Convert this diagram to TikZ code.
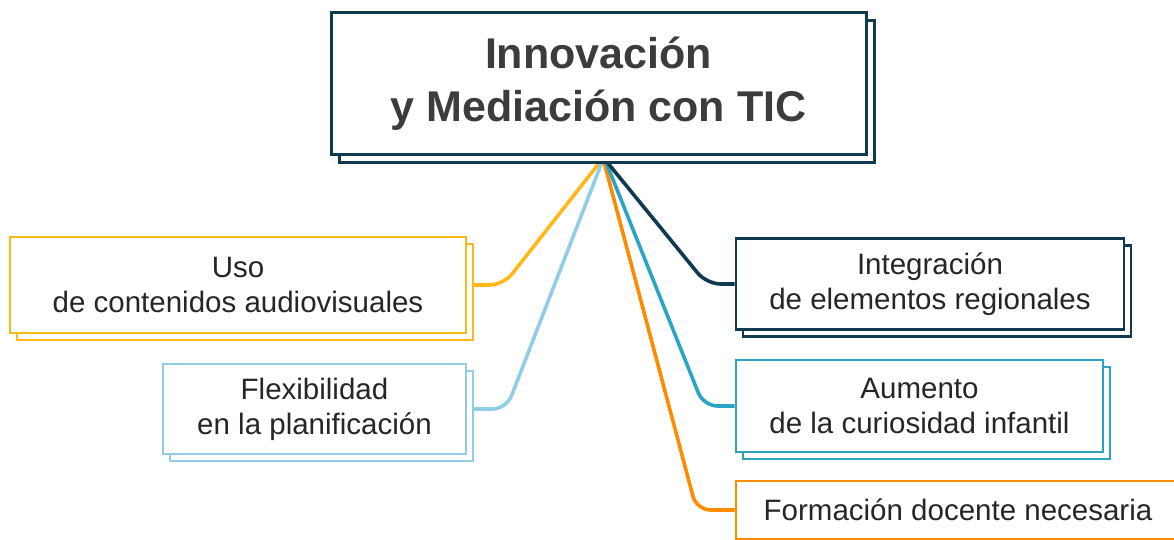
\documentclass[tikz,border=0pt]{standalone}
\usepackage{fontspec}
\setmainfont{Liberation Sans}
\usetikzlibrary{shadows,backgrounds,calc}
\definecolor{navy}{HTML}{0F3A52}
\definecolor{teal}{HTML}{2BA3C3}
\definecolor{orng}{HTML}{FF8C00}
\definecolor{gold}{HTML}{FFB81C}
\definecolor{sky}{HTML}{92CDE8}
\definecolor{ink}{HTML}{262626}
\begin{document}
\begin{tikzpicture}[x=1pt,y=-1pt,
	topic/.style={draw=#1,line width=2.8pt,fill=white,inner sep=0pt,align=center,text=ink,
		font=\fontsize{29.5}{35}\selectfont,
		copy shadow={shadow xshift=7pt,shadow yshift=-7pt,draw=#1,fill=white}},
	link/.style={draw=#1,line width=3.6pt,rounded corners=14pt}]
	\useasboundingbox (0,0) rectangle (1174,540);
	% central box
	\node[draw=navy,line width=3pt,fill=white,inner sep=0pt,minimum width=535pt,minimum height=142pt,
		align=center,text=ink!90,font=\bfseries\fontsize{43}{53}\selectfont,
		drop shadow={shadow xshift=4pt,shadow yshift=-9pt,opacity=0.08},
		copy shadow={shadow xshift=8pt,shadow yshift=-8pt,draw=navy,fill=white}]
		(title) at (598.5,84) {Innovación\\y Mediación con TIC};
	\coordinate (hub) at (603,162);
	% left branches
	\node[topic=gold,minimum width=456pt,minimum height=96pt] (uso) at (238,285) {Uso\\de contenidos audiovisuales};
	\node[topic=sky,minimum width=303pt,minimum height=90pt] (flex) at (314.5,409) {Flexibilidad\\en la planificación};
	% right branches
	\node[topic=navy,minimum width=388pt,minimum height=91pt] (integ) at (930,284) {Integración\\de elementos regionales};
	\node[topic=teal,minimum width=367pt,minimum height=92pt] (aum) at (919.5,406) {Aumento\\de la curiosidad infantil};
	\node[topic=orng,minimum width=444pt,minimum height=58pt] (form) at (958,510) {Formación docente necesaria};
	\begin{scope}[on background layer]
		\draw[link=gold] ([xshift=-3pt]hub) -- ([xshift=36pt]uso.east) -- (uso.east);
		\draw[link=sky] ([xshift=-1pt]hub) -- ([xshift=39pt]flex.east) -- (flex.east);
		\draw[link=orng] ([xshift=1pt]hub) -- ([xshift=-38pt]form.west) -- (form.west);
		\draw[link=teal] ([xshift=3pt]hub) -- ([xshift=-31pt]aum.west) -- (aum.west);
		\draw[link=navy] ([xshift=4pt]hub) -- ([xshift=-28pt]integ.west) -- (integ.west);
	\end{scope}
\end{tikzpicture}
\end{document}
